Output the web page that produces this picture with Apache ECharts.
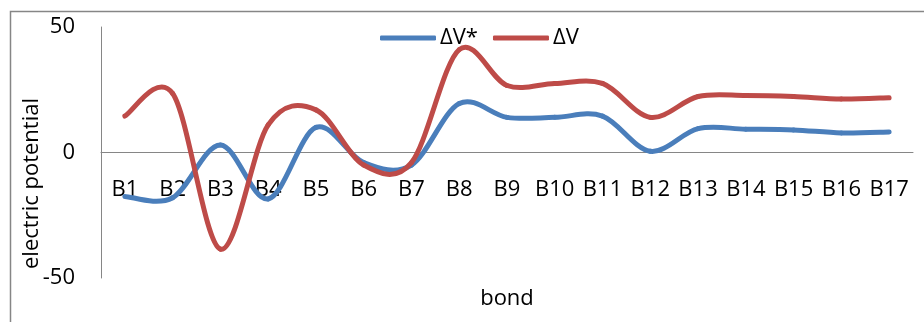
<!DOCTYPE html>
<html>
<head>
<meta charset="utf-8">
<script src="https://cdn.jsdelivr.net/npm/echarts@6/dist/echarts.min.js"></script>
<style>
  html, body { margin: 0; padding: 0; background: #fff; }
  #chart { width: 924px; height: 322px; }
</style>
</head>
<body>
<div id="chart"></div>
<script>
const categories = ['B1', 'B2', 'B3', 'B4', 'B5', 'B6', 'B7', 'B8', 'B9', 'B10', 'B11', 'B12', 'B13', 'B14', 'B15', 'B16', 'B17']
const dvStar = [-17.5, -18, 3, -18.5, 10, -4, -5, 19.5, 14, 14, 14.5, 0.5, 9.5, 9.3, 9, 7.8, 8.2]
const dv = [14.5, 23.5, -38.5, 11, 17, -5, -4, 41, 26.7, 27.5, 27.5, 14, 22.3, 22.7, 22.3, 21.3, 21.8]
const yTicks = { min: -50, max: 50, interval: 50 }

const font = 'Open Sans'
const chart = echarts.init(document.getElementById('chart'))

// excel style smoothed line: one cubic segment per point pair (catmull-rom)
function smoothLine(values, color) {
  return function (params, api) {
    const i = params.dataIndex
    const n = values.length
    if (i >= n - 1) return null
    const pt = j => api.coord([Math.max(0, Math.min(n - 1, j)), values[Math.max(0, Math.min(n - 1, j))]])
    const p0 = pt(i - 1), p1 = pt(i), p2 = pt(i + 1), p3 = pt(i + 2)
    const c1 = [p1[0] + (p2[0] - p0[0]) / 6, p1[1] + (p2[1] - p0[1]) / 6]
    const c2 = [p2[0] - (p3[0] - p1[0]) / 6, p2[1] - (p3[1] - p1[1]) / 6]
    return {
      type: 'bezierCurve',
      shape: { x1: p1[0], y1: p1[1], x2: p2[0], y2: p2[1], cpx1: c1[0], cpy1: c1[1], cpx2: c2[0], cpy2: c2[1] },
      style: { stroke: color, lineWidth: 5, fill: null, lineCap: 'round' }
    }
  }
}

const option = {
  animation: false,
  textStyle: { fontFamily: font, color: '#000' },
  grid: { left: 101, right: 11, top: 27, bottom: 44, outerBoundsMode: 'none' },
  legend: {
    left: 375,
    top: 22,
    itemWidth: 56,
    itemHeight: 5,
    itemGap: 15,
    icon: 'roundRect',
    textStyle: { fontFamily: font, fontSize: 22, color: '#000', padding: [0, 0, 0, -1] },
    data: ['ΔV*', 'ΔV']
  },
  xAxis: {
    type: 'category',
    data: categories,
    name: 'bond',
    nameLocation: 'middle',
    nameGap: 10,
    nameTextStyle: { fontFamily: font, fontSize: 22, color: '#000' },
    axisLine: { lineStyle: { color: '#868686', width: 1 } },
    axisTick: { show: false },
    axisLabel: { fontFamily: font, fontSize: 22, color: '#000', margin: -99, interval: 0 }
  },
  yAxis: {
    type: 'value',
    min: yTicks.min,
    max: yTicks.max,
    interval: yTicks.interval,
    name: 'electric potential',
    nameLocation: 'middle',
    nameGap: 58,
    nameMoveOverlap: false,
    nameTextStyle: { fontFamily: font, fontSize: 22, color: '#000', padding: [0, 62, 0, 0] },
    axisLine: { show: true, lineStyle: { color: '#868686', width: 1 } },
    axisTick: { show: false },
    splitLine: { show: false },
    axisLabel: { fontFamily: font, fontSize: 22, color: '#000', margin: 26 }
  },
  series: [
    {
      name: 'ΔV*',
      type: 'custom',
      data: dvStar.map((v, i) => [i, v]),
      encode: { x: 0, y: 1 },
      renderItem: smoothLine(dvStar, '#4a7ebb'),
      itemStyle: { color: '#4a7ebb' }
    },
    {
      name: 'ΔV',
      type: 'custom',
      data: dv.map((v, i) => [i, v]),
      encode: { x: 0, y: 1 },
      renderItem: smoothLine(dv, '#be4b48'),
      itemStyle: { color: '#be4b48' }
    }
  ],
  graphic: [
    {
      type: 'polyline',
      shape: { points: [[10.5, 322], [10.5, 11.5], [924, 11.5]] },
      style: { stroke: '#868686', lineWidth: 1.5, fill: null },
      silent: true
    }
  ]
}

chart.setOption(option)
window.onresize = function () {
  chart.resize()
}
</script>
</body>
</html>
